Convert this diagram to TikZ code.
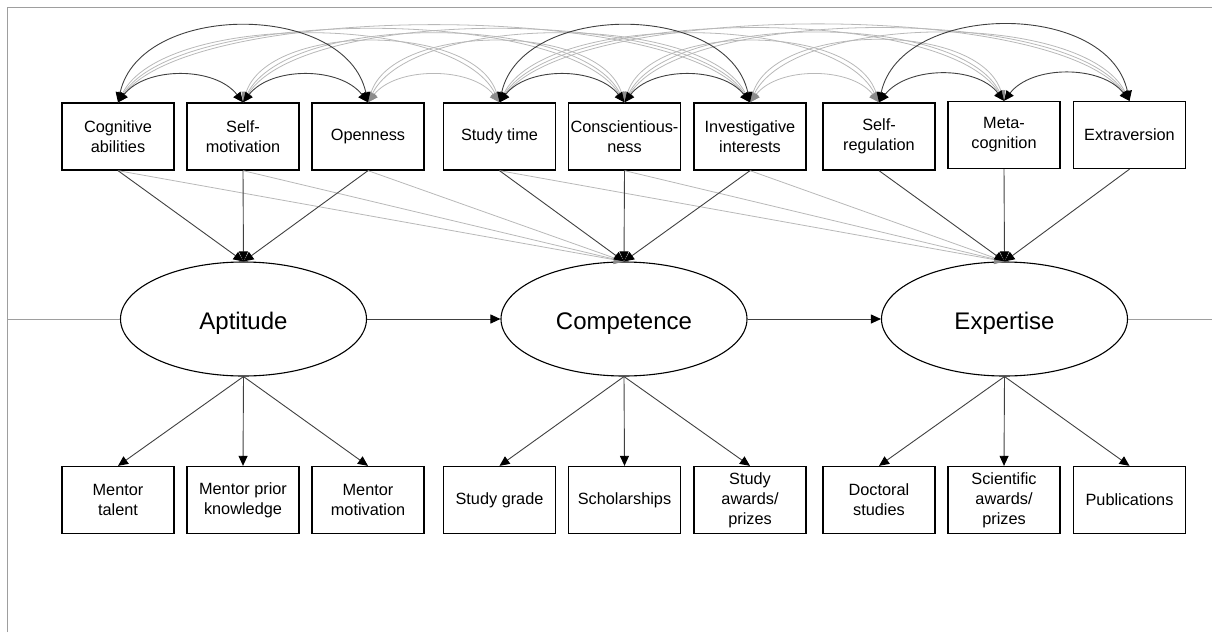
\documentclass[tikz,border=0pt]{standalone}
\usepackage{fontspec}
\setmainfont{Liberation Sans}
\usetikzlibrary{arrows.meta,shapes.geometric}

\begin{document}
\begin{tikzpicture}[x=1pt,y=-1pt,
  obs/.style={draw=black, line width=1.3pt, minimum width=112pt, minimum height=67pt,
    inner sep=0pt, align=center, font=\fontsize{16.3}{20}\selectfont},
  lat/.style={ellipse, draw=black, line width=1.1pt, minimum width=246pt,
    minimum height=114pt, inner sep=0pt, text height=20pt, text depth=0pt,
    font=\fontsize{24}{28}\selectfont},
  load/.style={draw=black!75, line width=0.9pt,
    -{Triangle[length=10pt,width=9pt,color=black]}},
  xload/.style={draw=black!28, line width=0.8pt,
    -{Triangle[length=10pt,width=9pt,color=black!45]}},
  cov/.style={draw=black!75, line width=0.9pt,
    {Triangle[length=10pt,width=9pt,color=black]}-{Triangle[length=10pt,width=9pt,color=black]}},
  xcov/.style={draw=black!28, line width=0.8pt,
    {Triangle[length=10pt,width=9pt,color=black!45]}-{Triangle[length=10pt,width=9pt,color=black!45]}},
  rule/.style={draw=black!38, line width=1pt}
]
\useasboundingbox (0,0) rectangle (1212,632);

% outer rules
\draw[rule] (7.5,632) -- (7.5,7.5) -- (1212,7.5);

% predictors
\node[obs] (cog)    at (118,136.5)   {Cognitive\\abilities};
\node[obs] (smot)   at (243,136.5)   {Self-\\motivation};
\node[obs] (open)   at (368,136.5)   {Openness};
\node[obs] (stime)  at (499.5,136.5) {Study time};
\node[obs] (consc)  at (624.5,136.5) {Conscientious-\\ness};
\node[obs] (invest) at (750,136.5)   {Investigative\\interests};
\node[obs] (sreg)   at (879,136.5)   {Self-\\regulation};
\node[obs] (meta)   at (1004,135)    {Meta-\\cognition};
\node[obs] (extra)  at (1129.5,135)  {Extraversion};

% latent stages
\node[lat] (apt)  at (243.5,319) {Aptitude};
\node[lat] (comp) at (624,319)   {Competence};
\node[lat] (exp)  at (1004.5,319) {Expertise};

% indicators
\node[obs] (mtal)    at (118,500)   {Mentor\\talent};
\node[obs] (mprior)  at (243,500)   {Mentor prior\\knowledge};
\node[obs] (mmot)    at (368,500)   {Mentor\\motivation};
\node[obs] (sgrade)  at (499.5,500) {Study grade};
\node[obs] (schol)   at (624.5,500) {Scholarships};
\node[obs] (sawards) at (750,500)   {Study\\awards/\\prizes};
\node[obs] (doc)     at (879,500)   {Doctoral\\studies};
\node[obs] (sciaw)   at (1004,500)  {Scientific\\awards/\\prizes};
\node[obs] (pubs)    at (1129.5,500) {Publications};

% cross-group covariances
\draw[xcov] (cog.north)  .. controls +(45,-90) and +(-45,-90) .. (stime.north);
\draw[xcov] (cog.north)  .. controls +(60,-96) and +(-60,-96) .. (consc.north);
\draw[xcov] (cog.north)  .. controls +(75,-101) and +(-75,-101) .. (invest.north);
\draw[xcov] (smot.north) .. controls +(25,-80) and +(-25,-80) .. (stime.north);
\draw[xcov] (smot.north) .. controls +(45,-90) and +(-45,-90) .. (consc.north);
\draw[xcov] (smot.north) .. controls +(60,-96) and +(-60,-96) .. (invest.north);
\draw[xcov] (open.north) .. controls +(28,-36) and +(-28,-36) .. (stime.north);
\draw[xcov] (open.north) .. controls +(25,-80) and +(-25,-80) .. (consc.north);
\draw[xcov] (open.north) .. controls +(45,-90) and +(-45,-90) .. (invest.north);
\draw[xcov] (stime.north)  .. controls +(45,-90) and +(-45,-90) .. (sreg.north);
\draw[xcov] (stime.north)  .. controls +(60,-96) and +(-60,-96) .. (meta.north);
\draw[xcov] (stime.north)  .. controls +(75,-101) and +(-75,-101) .. (extra.north);
\draw[xcov] (consc.north)  .. controls +(25,-80) and +(-25,-80) .. (sreg.north);
\draw[xcov] (consc.north)  .. controls +(45,-90) and +(-45,-90) .. (meta.north);
\draw[xcov] (consc.north)  .. controls +(60,-96) and +(-60,-96) .. (extra.north);
\draw[xcov] (invest.north) .. controls +(28,-36) and +(-28,-36) .. (sreg.north);
\draw[xcov] (invest.north) .. controls +(25,-80) and +(-25,-80) .. (meta.north);
\draw[xcov] (invest.north) .. controls +(45,-90) and +(-45,-90) .. (extra.north);

% within-group covariances
\draw[cov] (cog.north)   .. controls +(28,-36) and +(-28,-36) .. (smot.north);
\draw[cov] (smot.north)  .. controls +(28,-36) and +(-28,-36) .. (open.north);
\draw[cov] (cog.north)   .. controls +(22,-101) and +(-22,-101) .. (open.north);
\draw[cov] (stime.north) .. controls +(28,-36) and +(-28,-36) .. (consc.north);
\draw[cov] (consc.north) .. controls +(28,-36) and +(-28,-36) .. (invest.north);
\draw[cov] (stime.north) .. controls +(22,-101) and +(-22,-101) .. (invest.north);
\draw[cov] (sreg.north)  .. controls +(28,-36) and +(-28,-36) .. (meta.north);
\draw[cov] (meta.north)  .. controls +(28,-36) and +(-28,-36) .. (extra.north);
\draw[cov] (sreg.north)  .. controls +(22,-101) and +(-22,-101) .. (extra.north);

% cross-stage predictors
\foreach \v in {cog,smot,open} \draw[xload] (\v.south) -- (comp.north);
\foreach \v in {stime,consc,invest} \draw[xload] (\v.south) -- (exp.north);

% own-stage predictors
\foreach \v in {cog,smot,open} \draw[load] (\v.south) -- (apt.north);
\foreach \v in {stime,consc,invest} \draw[load] (\v.south) -- (comp.north);
\foreach \v in {sreg,meta,extra} \draw[load] (\v.south) -- (exp.north);

% indicators
\foreach \v in {mtal,mprior,mmot} \draw[load] (apt.south) -- (\v.north);
\foreach \v in {sgrade,schol,sawards} \draw[load] (comp.south) -- (\v.north);
\foreach \v in {doc,sciaw,pubs} \draw[load] (exp.south) -- (\v.north);

% stage sequence
\coordinate (inl) at (7.5,319);
\coordinate (outr) at (1212,319);
\draw[rule] (inl) -- (apt.west);
\draw[load] (apt.east) -- (comp.west);
\draw[load] (comp.east) -- (exp.west);
\draw[rule] (exp.east) -- (outr);
\end{tikzpicture}
\end{document}
